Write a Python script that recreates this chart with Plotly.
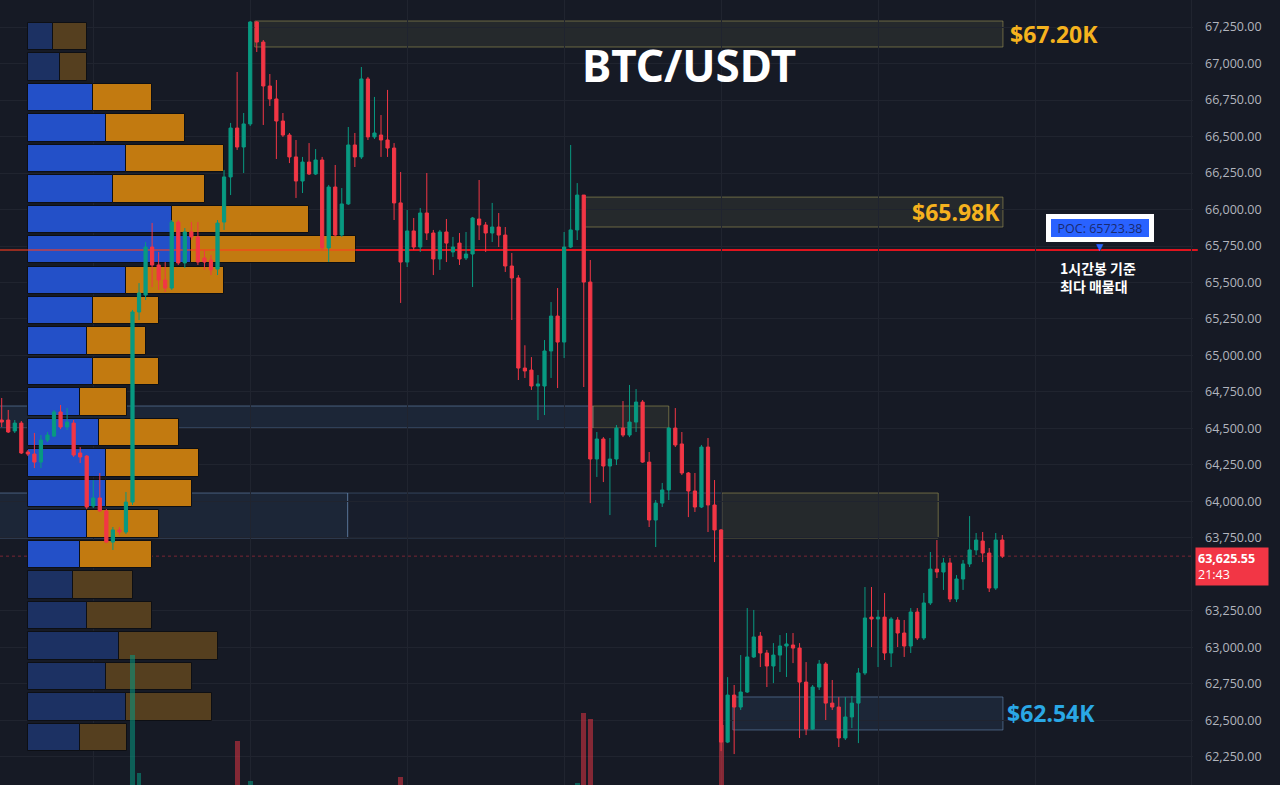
import plotly.graph_objects as go

# ---------------- data ----------------
opens = [64558, 64558, 64483, 64537, 64339, 64325, 64270, 64421, 64448, 64613,
         64510, 64537, 64332, 64311, 63969, 64024, 63935, 63722, 63805, 63791,
         63996, 65298, 65414, 65743, 65620, 65517, 65462, 65914, 65634, 65846,
         65812, 65668, 65654, 65592, 65914, 66223, 66558, 66428, 66586, 67284,
         67147, 66846, 66757, 66606, 66510, 66360, 66195, 66325, 66243, 66339,
         65737, 66154, 65825, 66038, 66442, 66360, 66894, 66497, 66510, 66476,
         66421, 66045, 65640, 65853, 65743, 65976, 65839, 65661, 65846, 65709,
         65770, 65668, 65695, 65935, 65894, 65839, 65880, 65825, 65613, 65531,
         64914, 64900, 64791, 64791, 65031, 65270, 65092, 65743, 65860, 66099,
         65503, 64291, 64428, 64243, 64291, 64503, 64455, 64544, 64681, 64270,
         63873, 63989, 64079, 64503, 64394, 64195, 64072, 63962, 64373, 63976,
         63805, 62352, 62674, 62592, 62695, 62935, 63078, 62962, 62873, 62948,
         63010, 63017, 62996, 62763, 62441, 62729, 62887, 62619, 62592, 62380,
         62524, 62619, 62825, 63208, 63195, 63208, 62962, 63188, 63099, 63010,
         63243, 63065, 63305, 63537, 63517, 63579, 63332, 63469, 63572, 63668,
         63729, 63647, 63407, 63736]
highs = [64709, 64627, 64558, 64551, 64353, 64469, 64455, 64476, 64627, 64661,
         64640, 64558, 64373, 64318, 64147, 64195, 63948, 63825, 63825, 64065,
         65312, 65496, 65777, 65908, 65709, 65640, 65928, 65928, 65873, 65914,
         65914, 65723, 65688, 65928, 66271, 66593, 66942, 66661, 67291, 67291,
         67161, 66928, 66887, 66661, 66524, 66476, 66360, 66455, 66414, 66360,
         66168, 66305, 66147, 66565, 66524, 66976, 66908, 66771, 66647, 66819,
         66455, 66257, 65997, 65942, 66010, 66250, 65860, 65860, 65935, 65812,
         65839, 65846, 65949, 66202, 65914, 66045, 65976, 65880, 65702, 65551,
         65070, 64989, 64866, 65106, 65366, 65462, 65846, 66442, 66181, 66099,
         65654, 64476, 64441, 64435, 64524, 64688, 64798, 64770, 64695, 64339,
         64010, 64127, 64510, 64640, 64476, 64202, 64195, 64387, 64435, 64147,
         63812, 62797, 62743, 62948, 63270, 63257, 63106, 62983, 63030, 63085,
         63099, 63099, 63030, 62900, 62743, 62914, 62900, 62777, 62660, 62660,
         62667, 62859, 63414, 63414, 63257, 63373, 63208, 63208, 63188, 63270,
         63270, 63373, 63654, 63736, 63613, 63613, 63496, 63599, 63900, 63784,
         63791, 63681, 63784, 63770]
lows = [64510, 64469, 64469, 64325, 64311, 64229, 64229, 64407, 64441, 64496,
        64490, 64305, 64264, 63948, 63955, 63928, 63715, 63668, 63770, 63777,
        63976, 65243, 65380, 65469, 65449, 65435, 65449, 65620, 65599, 65791,
        65620, 65586, 65551, 65551, 65860, 66099, 66408, 66250, 66572, 67079,
        66579, 66709, 66346, 66497, 66318, 66079, 66113, 66236, 66236, 65723,
        65640, 65812, 65812, 66031, 66291, 66346, 66476, 66483, 66360, 66360,
        65928, 65360, 65606, 65723, 65709, 65791, 65551, 65586, 65640, 65675,
        65620, 65654, 65469, 65791, 65709, 65777, 65743, 65572, 65243, 64832,
        64846, 64764, 64558, 64592, 64846, 64777, 64983, 65736, 65791, 64784,
        63989, 64168, 64133, 63907, 64250, 64441, 64441, 64476, 64264, 63825,
        63688, 63962, 64010, 64373, 64181, 63893, 63928, 63955, 63791, 63585,
        62290, 62345, 62270, 62572, 62688, 62928, 62866, 62729, 62756, 62832,
        62798, 62893, 62380, 62400, 62435, 62709, 62503, 62572, 62318, 62366,
        62448, 62345, 62811, 63003, 62866, 62914, 62866, 63003, 62935, 62962,
        63051, 63051, 63291, 63476, 63394, 63311, 63311, 63394, 63551, 63633,
        63585, 63380, 63394, 63613]
closes = [64544, 64476, 64537, 64332, 64325, 64270, 64421, 64455, 64613, 64510,
          64544, 64318, 64305, 63962, 64024, 63935, 63722, 63805, 63791, 63996,
          65298, 65428, 65743, 65620, 65517, 65462, 65914, 65634, 65846, 65812,
          65640, 65640, 65586, 65907, 66223, 66558, 66428, 66586, 67284, 67147,
          66846, 66757, 66606, 66510, 66360, 66195, 66325, 66243, 66339, 65737,
          66154, 65825, 66038, 66442, 66360, 66894, 66497, 66524, 66476, 66421,
          66045, 65640, 65853, 65743, 65976, 65839, 65661, 65846, 65770, 65743,
          65661, 65695, 65942, 65894, 65839, 65880, 65825, 65613, 65531, 64914,
          64894, 64791, 64805, 65031, 65270, 65092, 65743, 65860, 66099, 65503,
          64291, 64428, 64243, 64291, 64503, 64455, 64544, 64681, 64270, 63873,
          63989, 64079, 64503, 64387, 64195, 64072, 63962, 64373, 63976, 63805,
          62352, 62674, 62592, 62695, 62935, 63072, 62962, 62873, 62948, 63010,
          63024, 62996, 62763, 62441, 62729, 62887, 62619, 62592, 62380, 62524,
          62619, 62825, 63202, 63195, 63208, 62962, 63195, 63099, 63010, 63243,
          63065, 63305, 63537, 63517, 63579, 63332, 63469, 63572, 63668, 63736,
          63647, 63407, 63736, 63625.55]
candle_idx = list(range(len(opens)))

# visible volume bars (bar index, volume)
vol_idx = [20, 21, 36, 38, 61, 88, 89, 90, 110]
vol_val = [3100, 1920, 2240, 1840, 1880, 1820, 2520, 2460, 2400]

# volume profile (rows from top to bottom)
profile_high = 67290
profile_low = 62280
profile_buy = [25, 32, 65, 78, 98, 85, 144, 163, 98, 65, 59, 65,
               52, 71, 78, 78, 59, 52, 45, 59, 91, 78, 98, 52]
profile_sell = [34, 27, 59, 79, 98, 92, 137, 165, 98, 66, 59, 66,
                47, 80, 93, 86, 72, 72, 60, 65, 99, 86, 86, 47]
value_area = [False, False] + [True] * 16 + [False] * 6

poc_price = 65723.38
last_price = 63625.55
last_time = "21:43"

# price-scale labels (63,500 is hidden behind the last-price tag, as in the source)
y_tick_vals = [67250, 67000, 66750, 66500, 66250, 66000, 65750, 65500, 65250, 65000,
               64750, 64500, 64250, 64000, 63750, 63250, 63000, 62750, 62500, 62250]
y_tick_text = [f"{v:,.2f}" for v in y_tick_vals]

# ---------------- figure ----------------
BG = "#161a25"
GRID = "#20242f"
UP = "#089981"
DN = "#f23645"

fig = go.Figure()

n_rows = len(profile_buy)
row_h = (profile_high - profile_low) / n_rows
row_centers = [profile_high - (k + 0.5) * row_h for k in range(n_rows)]
buy_cols = ["#2350c8" if v else "#1c3163" for v in value_area]
sell_cols = ["#c27a10" if v else "#553f1f" for v in value_area]

fig.add_trace(go.Bar(
    y=row_centers, x=profile_buy, base=[0] * n_rows, orientation="h",
    width=row_h * 0.9, marker=dict(color=buy_cols, line=dict(color="#0d0f14", width=1)),
    xaxis="x", yaxis="y", hoverinfo="skip", showlegend=False))
fig.add_trace(go.Bar(
    y=row_centers, x=profile_sell, base=profile_buy, orientation="h",
    width=row_h * 0.9, marker=dict(color=sell_cols, line=dict(color="#0d0f14", width=1)),
    xaxis="x", yaxis="y", hoverinfo="skip", showlegend=False))

poc_row = max(range(n_rows), key=lambda k: profile_buy[k] + profile_sell[k])
fig.add_trace(go.Scatter(
    x=[-28, profile_buy[poc_row] + profile_sell[poc_row]], y=[poc_price, poc_price],
    mode="lines", line=dict(color="rgba(255,60,30,0.55)", width=2),
    xaxis="x", yaxis="y", hoverinfo="skip", showlegend=False))

fig.add_trace(go.Candlestick(
    x=candle_idx, open=opens, high=highs, low=lows, close=closes,
    increasing=dict(line=dict(color=UP, width=1), fillcolor=UP),
    decreasing=dict(line=dict(color=DN, width=1), fillcolor=DN),
    whiskerwidth=0, xaxis="x2", yaxis="y", hoverinfo="skip", showlegend=False))

vol_cols = ["rgba(8,153,129,0.55)" if closes[i] >= opens[i] else "rgba(242,54,69,0.5)"
            for i in vol_idx]
fig.add_trace(go.Bar(
    x=vol_idx, y=vol_val, width=0.75, marker=dict(color=vol_cols, line=dict(width=0)),
    xaxis="x2", yaxis="y2", hoverinfo="skip", showlegend=False))

# ---------------- zones ----------------
olive_fill = "rgba(130,125,90,0.15)"
olive_line = "rgba(170,160,90,0.55)"
blue_fill = "rgba(70,110,170,0.14)"
blue_line = "rgba(110,145,190,0.55)"
zones = [
    (38.7, 153.1, 67113, 67291, olive_fill, olive_line),
    (88.9, 153.1, 65880, 66085, olive_fill, olive_line),
    (-1, 90.4, 64503, 64654, blue_fill, blue_line),
    (90.4, 102.0, 64503, 64654, olive_fill, olive_line),
    (-1, 52.9, 63750, 64058, blue_fill, blue_line),
    (52.9, 110.1, 63750, 64058, "rgba(70,110,170,0.05)", "rgba(110,145,190,0.35)"),
    (110.1, 143.2, 63750, 64058, olive_fill, olive_line),
    (111.8, 153.1, 62435, 62661, blue_fill, blue_line),
]
shapes = []
for x0, x1, y0, y1, fc, lc in zones:
    shapes.append(dict(type="rect", xref="x2", yref="y", x0=x0, x1=x1, y0=y0, y1=y1,
                       fillcolor=fc, line=dict(color=lc, width=1), layer="below"))
shapes.append(dict(type="line", xref="paper", yref="y", x0=0.0235, x1=1.004,
                   y0=poc_price, y1=poc_price, line=dict(color="#e0141e", width=2),
                   layer="below"))
shapes.append(dict(type="line", xref="paper", yref="y", x0=0, x1=1,
                   y0=last_price, y1=last_price,
                   line=dict(color="rgba(242,54,69,0.45)", width=1, dash="dot"),
                   layer="below"))

# ---------------- annotations ----------------
ann = []
ann.append(dict(text="<b>BTC/USDT</b>", xref="paper", yref="paper", x=689 / 1193, y=1 - 65 / 785,
                showarrow=False, font=dict(family="Noto Sans", size=44, color="white"),
                xanchor="center", yanchor="middle"))
gold = "#f5b21e"
ann.append(dict(text="<b>$67.20K</b>", xref="x2", yref="y", x=153.9, y=67202,
                showarrow=False, xanchor="left", yanchor="middle",
                font=dict(family="Noto Sans", size=23, color=gold)))
ann.append(dict(text="<b>$65.98K</b>", xref="x2", yref="y", x=152.9, y=65983,
                showarrow=False, xanchor="right", yanchor="middle",
                font=dict(family="Noto Sans", size=23, color=gold)))
ann.append(dict(text="<b>$62.54K</b>", xref="x2", yref="y", x=153.4, y=62551,
                showarrow=False, xanchor="left", yanchor="middle",
                font=dict(family="Noto Sans", size=23, color="#2aa8e6")))
ann.append(dict(text="POC: %.2f" % poc_price, xref="x2", yref="y", x=167.9, y=65876,
                showarrow=False, xanchor="center", yanchor="middle",
                width=98, height=18,
                font=dict(family="Open Sans", size=12.5, color="#1a2a70"),
                bgcolor="#2962ff", bordercolor="white", borderwidth=5, borderpad=0))
ann.append(dict(text="▼", xref="x2", yref="y", x=167.9, y=65748,
                showarrow=False, xanchor="center", yanchor="middle",
                font=dict(size=12, color="#2962ff")))
ann.append(dict(text="<b>1시간봉 기준<br>최다 매물대</b>", xref="x2", yref="y", x=161.5, y=65680,
                showarrow=False, xanchor="left", yanchor="top", align="left",
                font=dict(family="Noto Sans CJK KR", size=14, color="white")))
ann.append(dict(text="<b>%s</b><br>%s" % (f"{last_price:,.2f}", last_time), xref="paper", yref="y",
                x=1.0015, y=63690, showarrow=False, xanchor="left", yanchor="top",
                align="left", font=dict(family="Open Sans", size=12.5, color="white"),
                bgcolor=DN, borderpad=2, width=68))

fig.update_layout(
    width=1280, height=785, margin=dict(l=0, r=87, t=0, b=0),
    paper_bgcolor=BG, plot_bgcolor=BG, barmode="overlay", bargap=0,
    showlegend=False, shapes=shapes, annotations=ann, hovermode=False,
    xaxis=dict(range=[-28, 1165], visible=False, showgrid=False, fixedrange=True),
    xaxis2=dict(overlaying="x", range=[-0.26, 182.16], showgrid=True, gridcolor=GRID,
                tick0=14, dtick=24, showticklabels=False, zeroline=False, ticks="",
                rangeslider=dict(visible=False), showline=False),
    yaxis=dict(range=[62058, 67435], side="right", tickmode="array",
               tickvals=y_tick_vals, ticktext=y_tick_text,
               gridcolor=GRID, showgrid=True, zeroline=False, ticks="",
               tickfont=dict(family="Open Sans", size=12.5, color="#b2b5be"),
               ticklabelstandoff=11, showline=False),
    yaxis2=dict(overlaying="y", range=[1800, 9650], visible=False, showgrid=False),
)

fig.write_html("out.html")
